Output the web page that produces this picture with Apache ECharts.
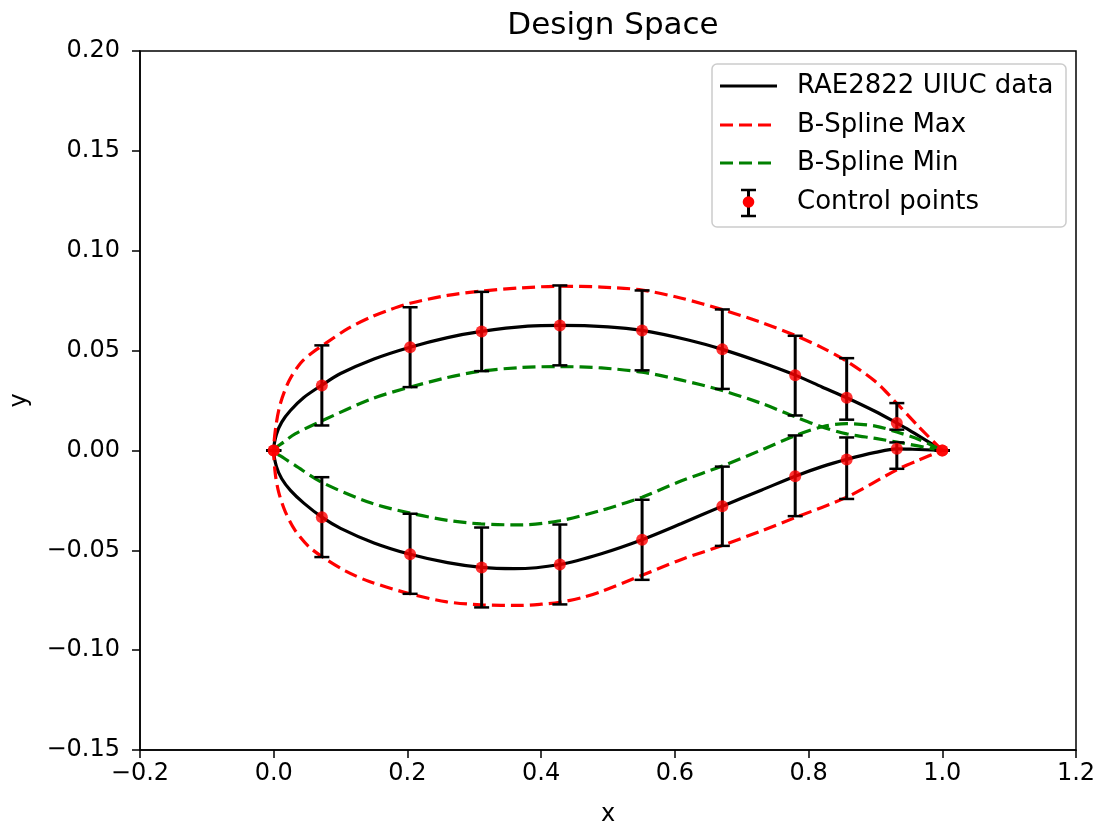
<!DOCTYPE html>
<html>
<head>
<meta charset="utf-8">
<script src="https://cdn.jsdelivr.net/npm/echarts@6/dist/echarts.min.js"></script>
<style>html,body{margin:0;padding:0;background:#fff}#c{width:1105px;height:832px}</style>
</head>
<body>
<div id="c"></div>
<script>
// ---- data ----
const ctrlX = [0.0, 0.072, 0.204, 0.311, 0.428, 0.551, 0.671, 0.780, 0.857, 0.932, 1.0];
const ctrlUpperY = [0.0, 0.0325, 0.0517, 0.0596, 0.0626, 0.0601, 0.0506, 0.0376, 0.0264, 0.0137, 0.0];
const ctrlLowerY = [0.0, -0.0334, -0.0520, -0.0586, -0.0571, -0.0447, -0.0279, -0.0129, -0.0045, 0.0008, 0.0];
const upperBarHi = [0.0, 0.0526, 0.0717, 0.0794, 0.0826, 0.0801, 0.0706, 0.0574, 0.0462, 0.0237, 0.0];
const upperBarLo = [0.0, 0.0125, 0.0317, 0.0397, 0.0426, 0.0401, 0.0308, 0.0175, 0.0154, 0.0104, 0.0];
const lowerBarHi = [0.0, -0.0134, -0.0317, -0.0386, -0.0371, -0.0247, -0.0081, 0.0075, 0.0065, 0.0040, 0.0];
const lowerBarLo = [0.0, -0.0534, -0.0718, -0.0786, -0.0771, -0.0648, -0.0478, -0.0329, -0.0243, -0.0092, 0.0];

const uiucX = [1.0, 0.95, 0.932, 0.9, 0.857, 0.82, 0.78, 0.73, 0.671, 0.62, 0.551, 0.5, 0.428, 0.38, 0.311, 0.26, 0.204, 0.15, 0.1, 0.072, 0.045, 0.025, 0.012, 0.004, 0.0,
               0.004, 0.012, 0.025, 0.045, 0.072, 0.1, 0.15, 0.204, 0.26, 0.311, 0.36, 0.428, 0.49, 0.551, 0.61, 0.671, 0.73, 0.78, 0.82, 0.857, 0.9, 0.932, 0.955, 1.0];
const uiucY = [0.0, 0.0103, 0.0137, 0.0195, 0.0264, 0.0318, 0.0377, 0.0440, 0.0506, 0.0553, 0.0601, 0.0619, 0.0626, 0.0622, 0.0596, 0.0565, 0.0517, 0.0458, 0.0385, 0.0327, 0.0265, 0.0200, 0.0142, 0.0080, 0.0,
               -0.0080, -0.0142, -0.0200, -0.0264, -0.0334, -0.0390, -0.0463, -0.0520, -0.0562, -0.0586, -0.0592, -0.0571, -0.0517, -0.0447, -0.0366, -0.0279, -0.0198, -0.0129, -0.0081, -0.0045, -0.0010, 0.0008, 0.0006, 0.0];

const maxX = [1.0, 0.965, 0.932, 0.9, 0.857, 0.82, 0.78, 0.73, 0.671, 0.61, 0.551, 0.49, 0.428, 0.37, 0.311, 0.26, 0.204, 0.175, 0.147, 0.112, 0.077, 0.057, 0.040, 0.0224, 0.010, 0.0034, 0.0,
              0.0024, 0.0075, 0.0174, 0.032, 0.052, 0.075, 0.107, 0.142, 0.204, 0.259, 0.31, 0.37, 0.40, 0.428, 0.46, 0.49, 0.551, 0.61, 0.671, 0.73, 0.781, 0.857, 0.932, 0.965, 1.0];
const maxY = [0.0, 0.0118, 0.0236, 0.0345, 0.0447, 0.0515, 0.0576, 0.0640, 0.0705, 0.0762, 0.0803, 0.0818, 0.0822, 0.0814, 0.0798, 0.0776, 0.0737, 0.0706, 0.0670, 0.0612, 0.0535, 0.0488, 0.0437, 0.0345, 0.0235, 0.0125, 0.0,
              -0.0118, -0.0210, -0.0308, -0.0400, -0.0480, -0.0538, -0.0603, -0.0655, -0.0718, -0.0758, -0.0773, -0.0776, -0.0770, -0.0760, -0.0738, -0.0706, -0.0625, -0.0546, -0.0476, -0.0402, -0.0335, -0.0234, -0.0097, -0.0048, 0.0];

const minX = [1.0, 0.932, 0.9, 0.857, 0.82, 0.781, 0.73, 0.671, 0.61, 0.551, 0.49, 0.428, 0.37, 0.31, 0.26, 0.204, 0.147, 0.072, 0.032, 0.015, 0.0,
              0.015, 0.032, 0.072, 0.147, 0.204, 0.26, 0.31, 0.37, 0.428, 0.49, 0.551, 0.61, 0.671, 0.73, 0.781, 0.822, 0.857, 0.9, 0.932, 0.965, 1.0];
const minY = [0.0, 0.0042, 0.0060, 0.0083, 0.0118, 0.0167, 0.0235, 0.0300, 0.0352, 0.0392, 0.0413, 0.0420, 0.0415, 0.0397, 0.0365, 0.0317, 0.0259, 0.0148, 0.0083, 0.0042, 0.0,
              -0.0038, -0.0075, -0.0160, -0.0265, -0.0314, -0.0350, -0.0368, -0.0373, -0.0352, -0.0300, -0.0234, -0.0152, -0.0078, 0.0003, 0.0075, 0.0120, 0.0134, 0.0122, 0.0092, 0.0055, 0.0];

const legendLabels = ['RAE2822 UIUC data', 'B-Spline Max', 'B-Spline Min', 'Control points'];
const titleText = 'Design Space';

// ---- build ----
const zip = (xs, ys) => xs.map((x, i) => [x, ys[i]]);
const barData = ctrlX.map((x, i) => [x, upperBarLo[i], upperBarHi[i]])
  .concat(ctrlX.map((x, i) => [x, lowerBarLo[i], lowerBarHi[i]]));
const dotData = zip(ctrlX, ctrlUpperY).concat(zip(ctrlX, ctrlLowerY));

const FONT = 'DejaVu Sans';
const minus = s => s.replace('-', '\u2212');
const fmt = d => v => { if (Math.abs(v) < 1e-9) v = 0; return minus(v.toFixed(d)); };

const chart = echarts.init(document.getElementById('c'), null, {renderer: 'canvas'});

// legend geometry
const LX = 712, LY = 64, LW = 354, LH = 163;
const rowY = [86, 125, 163, 202];
const lx1 = 720, lx2 = 777, tx = 797;
const legendGraphics = [
  {type: 'rect', shape: {x: LX, y: LY, width: LW, height: LH, r: 5},
   style: {fill: 'rgba(255,255,255,0.8)', stroke: '#cccccc', lineWidth: 1.5}, z: 100},
  {type: 'line', shape: {x1: lx1, y1: rowY[0], x2: lx2, y2: rowY[0]}, style: {stroke: '#000', lineWidth: 3.2}, z: 101},
  {type: 'line', shape: {x1: lx1, y1: rowY[1], x2: lx2, y2: rowY[1]}, style: {stroke: '#ff0000', lineWidth: 3.2, lineDash: [13, 6]}, z: 101},
  {type: 'line', shape: {x1: lx1, y1: rowY[2], x2: lx2, y2: rowY[2]}, style: {stroke: '#008000', lineWidth: 3.2, lineDash: [13, 6]}, z: 101},
  {type: 'line', shape: {x1: 748.5, y1: 190, x2: 748.5, y2: 216}, style: {stroke: '#000', lineWidth: 3}, z: 101},
  {type: 'line', shape: {x1: 741, y1: 190, x2: 756, y2: 190}, style: {stroke: '#000', lineWidth: 2.5}, z: 101},
  {type: 'line', shape: {x1: 741, y1: 216, x2: 756, y2: 216}, style: {stroke: '#000', lineWidth: 2.5}, z: 101},
  {type: 'circle', shape: {cx: 748.5, cy: 202, r: 5.8}, style: {fill: '#ff0000'}, z: 102}
].concat(legendLabels.map((t, i) => ({
  type: 'text', x: tx, y: rowY[i], z: 101,
  style: {text: t, font: '26px "' + FONT + '"', fill: '#000', textVerticalAlign: 'middle', verticalAlign: 'middle'}
})));

const option = {
  animation: false,
  backgroundColor: '#fff',
  textStyle: {fontFamily: FONT},
  title: {text: titleText, left: 608, textAlign: 'center', top: 5,
          textStyle: {fontFamily: FONT, fontSize: 31, fontWeight: 'normal', color: '#000'}},
  grid: {left: 140, right: 29, top: 51, bottom: 82, show: true, borderColor: '#000', borderWidth: 1.5, backgroundColor: 'transparent'},
  xAxis: {
    type: 'value', min: -0.2, max: 1.2, interval: 0.2,
    name: 'x', nameLocation: 'middle', nameGap: 53,
    nameTextStyle: {fontFamily: FONT, fontSize: 24, color: '#000'},
    axisLine: {show: true, onZero: false, lineStyle: {color: '#000', width: 1.5}},
    axisTick: {show: true, length: 8, lineStyle: {color: '#000', width: 1.5}},
    axisLabel: {fontFamily: FONT, fontSize: 24, color: '#000', margin: 12, formatter: fmt(1)},
    splitLine: {show: false}
  },
  yAxis: {
    type: 'value', min: -0.15, max: 0.2, interval: 0.05,
    name: 'y', nameLocation: 'middle', nameGap: 108, nameRotate: 90,
    nameTextStyle: {fontFamily: FONT, fontSize: 24, color: '#000'},
    axisLine: {show: true, onZero: false, lineStyle: {color: '#000', width: 1.5}},
    axisTick: {show: true, length: 8, lineStyle: {color: '#000', width: 1.5}},
    axisLabel: {fontFamily: FONT, fontSize: 24, color: '#000', margin: 20, formatter: fmt(2)},
    splitLine: {show: false}
  },
  series: [
    {name: legendLabels[0], type: 'line', data: zip(uiucX, uiucY), showSymbol: false, symbol: 'none',
     smooth: 0.3, lineStyle: {color: '#000', width: 3.2}, z: 2},
    {name: legendLabels[1], type: 'line', data: zip(maxX, maxY), showSymbol: false, symbol: 'none',
     smooth: 0.3, lineStyle: {color: '#ff0000', width: 3.2, type: [13, 6]}, z: 3},
    {name: legendLabels[2], type: 'line', data: zip(minX, minY), showSymbol: false, symbol: 'none',
     smooth: 0.3, lineStyle: {color: '#008000', width: 3.2, type: [13, 6]}, z: 3},
    {name: legendLabels[3], type: 'custom', data: barData, encode: {x: 0, y: [1, 2]}, z: 4,
     renderItem: function (params, api) {
       const x = api.value(0), lo = api.value(1), hi = api.value(2);
       const pTop = api.coord([x, hi]), pBot = api.coord([x, lo]);
       const hw = 7.5;
       const st = {stroke: '#000', lineWidth: 3};
       const cs = {stroke: '#000', lineWidth: 2.5};
       return {type: 'group', children: [
         {type: 'line', shape: {x1: pTop[0], y1: pTop[1], x2: pBot[0], y2: pBot[1]}, style: st},
         {type: 'line', shape: {x1: pTop[0] - hw, y1: pTop[1], x2: pTop[0] + hw, y2: pTop[1]}, style: cs},
         {type: 'line', shape: {x1: pBot[0] - hw, y1: pBot[1], x2: pBot[0] + hw, y2: pBot[1]}, style: cs}
       ]};
     }},
    {name: legendLabels[3], type: 'scatter', data: dotData, symbol: 'circle', symbolSize: 12,
     itemStyle: {color: '#ff0000'}, z: 5}
  ],
  graphic: legendGraphics
};
chart.setOption(option);
</script>
</body>
</html>
